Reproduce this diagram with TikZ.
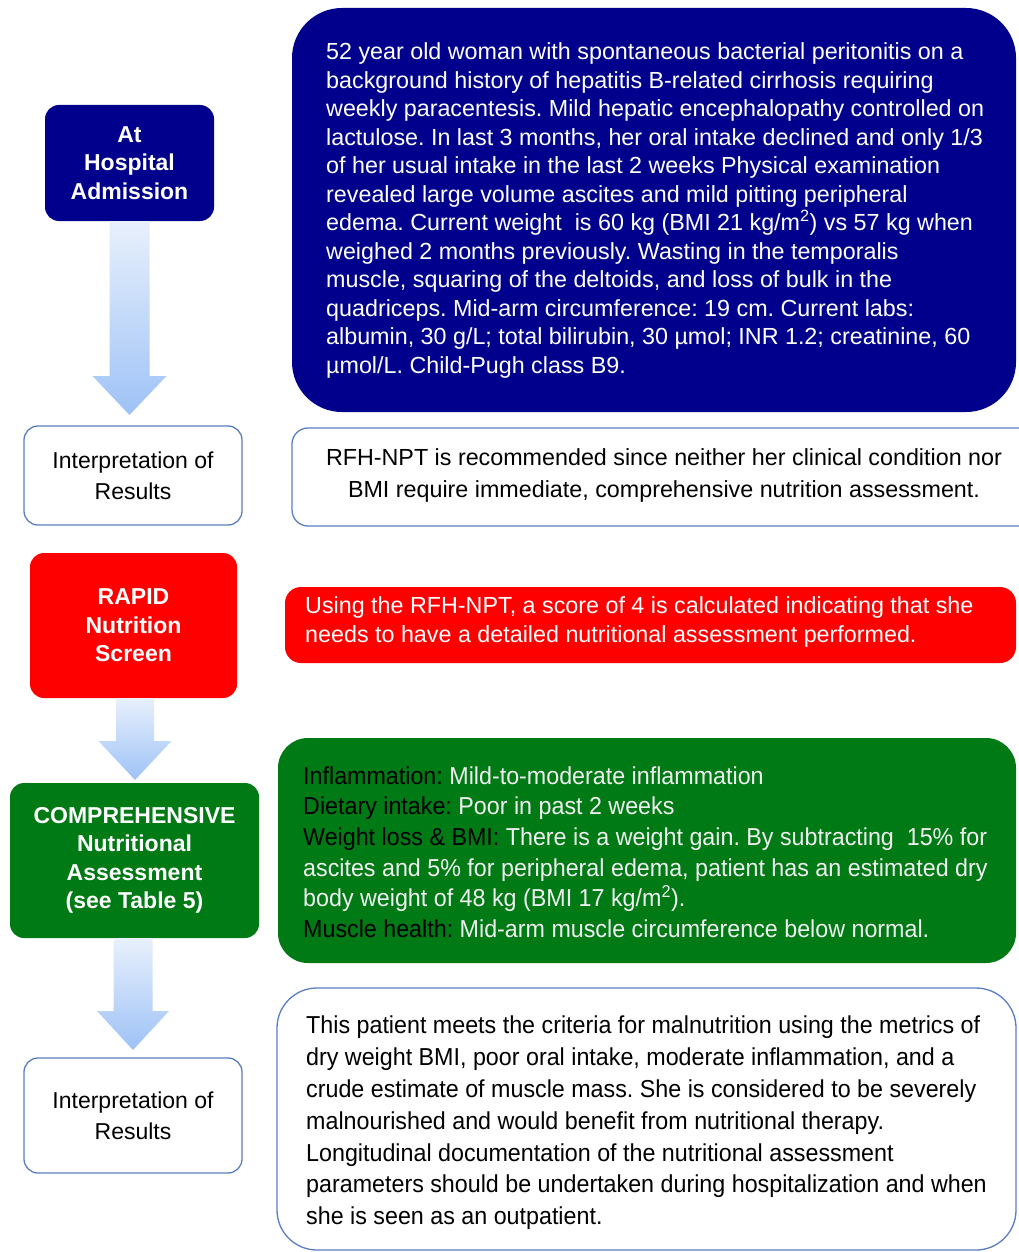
\documentclass[tikz,border=0pt]{standalone}
\usepackage{fontspec}
\setmainfont{Liberation Sans}
\newfontfamily\narrowfont[FakeStretch=0.95]{Liberation Sans}
\usetikzlibrary{calc}
\definecolor{navy}{RGB}{0,0,140}
\definecolor{myred}{RGB}{255,0,0}
\definecolor{mygreen}{RGB}{0,122,20}
\definecolor{edgeblue}{RGB}{90,126,192}
\definecolor{arrtop}{RGB}{232,240,252}
\definecolor{arrbot}{RGB}{158,194,246}
\tikzset{
  lbl/.style={rounded corners=14pt, align=center, inner sep=0pt,
    font=\fontsize{23}{28.5}\selectfont\bfseries, text=white},
  whitelbl/.style={rounded corners=14pt, align=center, inner sep=0pt, draw=edgeblue, line width=1.3pt,
    fill=white, font=\fontsize{23}{31}\selectfont},
  txtbox/.style={align=left, inner sep=0pt},
  arrowshade/.style={top color=arrtop, bottom color=arrbot, draw=none},
}
\newcommand{\flowarrow}[4]{%
  \path[arrowshade] let \p1=(#1.south), \p2=(#2) in
    (\x2-#3pt,\y1) -- (\x2+#3pt,\y1) -- (\x2+#3pt,\y2+39pt) -- (\x2+#4pt,\y2+39pt)
    -- (\x2,\y2) -- (\x2-#4pt,\y2+39pt) -- (\x2-#3pt,\y2+39pt) -- cycle;}
\begin{document}
\frenchspacing
\begin{tikzpicture}[x=1pt,y=-1pt]
\useasboundingbox[fill=white] (0,0) rectangle (1018,1252);

% ---- left column ----
\node[lbl, fill=navy, minimum width=169pt, minimum height=116pt] (adm) at (129.5,163) {At\\Hospital\\Admission};
\node[whitelbl, minimum width=218pt, minimum height=99pt] (int1) at (133,475.5) {Interpretation of\\Results};
\node[lbl, fill=myred, minimum width=207pt, minimum height=145pt] (rapid) at (133.5,625.5) {RAPID\\Nutrition\\Screen};
\node[lbl, fill=mygreen, minimum width=249pt, minimum height=155pt] (comp) at (134.5,860.5) {COMPREHENSIVE\\Nutritional\\Assessment\\(see Table 5)};
\node[whitelbl, minimum width=218pt, minimum height=115pt] (int2) at (133,1115.5) {Interpretation of\\Results};

% ---- arrows ----
\coordinate (tip1) at (129.5,415);
\coordinate (tip2) at (135,780);
\coordinate (tip3) at (133,1050);
\flowarrow{adm}{tip1}{20}{37}
\flowarrow{rapid}{tip2}{19}{36.5}
\flowarrow{comp}{tip3}{19.5}{36}

% ---- right column ----
\node[fill=navy, rounded corners=50pt, minimum width=724pt, minimum height=404pt] (case) at (654,210) {};
\node[txtbox, text=white, font=\fontsize{23.3}{28.5}\selectfont, anchor=west] (casetxt) at (326,210.5) {%
52 year old woman with spontaneous bacterial peritonitis on a\\
background history of hepatitis B-related cirrhosis requiring\\
weekly paracentesis. Mild hepatic encephalopathy controlled on\\
lactulose. In last 3 months, her oral intake declined and only 1/3\\
of her usual intake in the last 2 weeks Physical examination\\
revealed large volume ascites and mild pitting peripheral\\
edema. Current weight\ \ is 60 kg (BMI 21 kg/m\textsuperscript{2}) vs 57 kg when\\
weighed 2 months previously. Wasting in the temporalis\\
muscle, squaring of the deltoids, and loss of bulk in the\\
quadriceps. Mid-arm circumference: 19 cm. Current labs:\\
albumin, 30 g/L; total bilirubin, 30 µmol; INR 1.2; creatinine, 60\\
µmol/L. Child-Pugh class B9.};

\node[draw=edgeblue, line width=1.3pt, fill=white, rounded corners=16pt, minimum width=744pt, minimum height=98pt] (rec) at (664,477) {};
\node[align=center, inner sep=0pt, font=\fontsize{23.3}{32}\selectfont] (rectxt) at (664,475.5) {RFH-NPT is recommended since neither her clinical condition nor\\BMI require immediate, comprehensive nutrition assessment.};

\node[fill=myred, rounded corners=16pt, minimum width=731pt, minimum height=76pt] (score) at (650.5,625) {};
\node[txtbox, text=white, font=\fontsize{23.3}{28.5}\selectfont, anchor=west] (scoretxt) at (305,622) {Using the RFH-NPT, a score of 4 is calculated indicating that she\\needs to have a detailed nutritional assessment performed.};

\node[fill=mygreen, rounded corners=30pt, minimum width=738pt, minimum height=225pt] (assess) at (647,850.5) {};
\node[txtbox, text=white!94!black, font=\narrowfont\fontsize{24.5}{30.6}\selectfont, anchor=west] (assesstxt) at (303,852) {%
\textcolor{black}{Inflammation:} Mild-to-moderate inflammation\\
\textcolor{black}{Dietary intake:} Poor in past 2 weeks\\
\textcolor{black}{Weight loss \& BMI:} There is a weight gain. By subtracting\ \ 15\% for\\
ascites and 5\% for peripheral edema, patient has an estimated dry\\
body weight of 48 kg (BMI 17 kg/m\textsuperscript{2}).\\
\textcolor{black}{Muscle health:} Mid-arm muscle circumference below normal.};

\node[draw=edgeblue, line width=1.3pt, fill=white, rounded corners=40pt, minimum width=739pt, minimum height=262pt] (concl) at (646.5,1119) {};
\node[txtbox, font=\narrowfont\fontsize{24.5}{31.8}\selectfont, anchor=west] (concltxt) at (306,1123) {%
This patient meets the criteria for malnutrition using the metrics of\\
dry weight BMI, poor oral intake, moderate inflammation, and a\\
crude estimate of muscle mass. She is considered to be severely\\
malnourished and would benefit from nutritional therapy.\\
Longitudinal documentation of the nutritional assessment\\
parameters should be undertaken during hospitalization and when\\
she is seen as an outpatient.};
\end{tikzpicture}
\end{document}
